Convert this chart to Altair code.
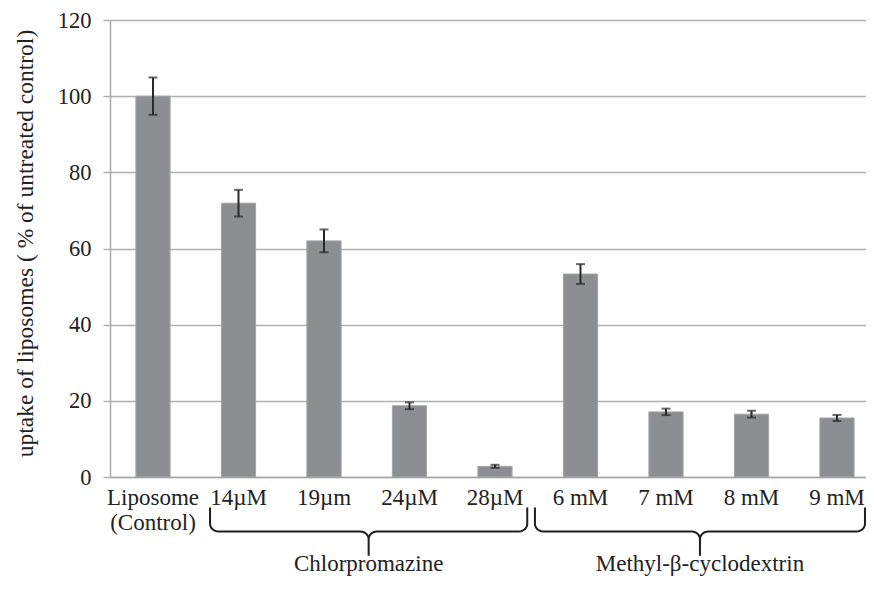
import math
import altair as alt
import pandas as pd

# ---- data ----
categories = ["Liposome\n(Control)", "14µM", "19µm", "24µM", "28µM",
              "6 mM", "7 mM", "8 mM", "9 mM"]
uptake = [100.0, 71.9, 62.0, 18.7, 2.8, 53.3, 17.1, 16.5, 15.5]
error = [4.9, 3.5, 3.0, 0.9, 0.4, 2.6, 0.85, 0.9, 0.8]

groups = ["Chlorpromazine", "Methyl-β-cyclodextrin"]
group_start = [0.67, 4.47]   # in category-index units
group_end = [4.38, 8.33]

Y_TITLE = "uptake of liposomes ( % of untreated control)"
FONT = "Times New Roman, Liberation Serif, DejaVu Serif, serif"

bars_df = pd.DataFrame({
    "cat": categories,
    "val": uptake,
    "lo": [v - e for v, e in zip(uptake, error)],
    "hi": [v + e for v, e in zip(uptake, error)],
})

# brace geometry (shape of the curly bracket, in data units)
TOP, MID, TIP = -8.0, -14.3, -20.7
RX, RY = 0.1, 2.0


def brace(x0, x1):
    xc = (x0 + x1) / 2
    pts = [(x0, TOP)]
    for k in range(7):
        t = math.pi + k * (math.pi / 2) / 6
        pts.append((x0 + RX + RX * math.cos(t), MID + RY + RY * math.sin(t)))
    for k in range(7):
        t = math.pi / 2 - k * (math.pi / 2) / 6
        pts.append((xc - RX + RX * math.cos(t), MID - RY + RY * math.sin(t)))
    pts.append((xc, TIP))
    for k in range(7):
        t = math.pi - k * (math.pi / 2) / 6
        pts.append((xc + RX + RX * math.cos(t), MID - RY + RY * math.sin(t)))
    for k in range(7):
        t = 1.5 * math.pi + k * (math.pi / 2) / 6
        pts.append((x1 - RX + RX * math.cos(t), MID + RY + RY * math.sin(t)))
    pts.append((x1, TOP))
    return pts


rows = []
for g, a, b in zip(groups, group_start, group_end):
    for i, (x, y) in enumerate(brace(a, b)):
        rows.append({"group": g, "order": i, "x": x, "y": y})
brace_df = pd.DataFrame(rows)
label_df = pd.DataFrame({
    "group": groups,
    "x": [(a + b) / 2 for a, b in zip(group_start, group_end)],
    "y": [-24.8] * len(groups),
})

yscale = alt.Scale(domain=[0, 120], nice=False)
xband = alt.X(
    "cat:N", sort=categories, title=None,
    scale=alt.Scale(paddingInner=0.6, paddingOuter=0.221, align=0.685),
    axis=alt.Axis(labelAngle=0, labelExpr="split(datum.label, '\\n')",
                  labelFont=FONT, labelFontSize=23, labelColor="#222222",
                  labelLineHeight=25, labelPadding=9, ticks=False,
                  domainColor="#a8a8a8", domainWidth=1.5, labelBaseline="top"),
)

bars = alt.Chart(bars_df).mark_bar(color="#8d8e92", stroke="#a3a4a8", strokeWidth=1).encode(
    x=xband,
    y=alt.Y("val:Q", scale=yscale, title=Y_TITLE,
            axis=alt.Axis(values=[0, 20, 40, 60, 80, 100, 120], grid=True,
                          gridColor="#b0b0b0", gridWidth=1.5,
                          tickColor="#b0b0b0", tickSize=7, tickWidth=1.5,
                          domainColor="#a8a8a8", domainWidth=1.5,
                          labelFont=FONT, labelFontSize=22.5, labelColor="#222222",
                          labelPadding=12,
                          titleFont=FONT, titleFontSize=23.5, titleFontWeight="normal",
                          titleColor="#222222", titlePadding=20, titleY=223)),
)

err = alt.Chart(bars_df).mark_rule(color="#2a2a2a", strokeWidth=2).encode(
    x=alt.X("cat:N", sort=categories),
    y=alt.Y("lo:Q", scale=yscale),
    y2="hi:Q",
)
cap_lo = alt.Chart(bars_df).mark_tick(color="#2a2a2a", thickness=2, size=9).encode(
    x=alt.X("cat:N", sort=categories), y=alt.Y("lo:Q", scale=yscale))
cap_hi = alt.Chart(bars_df).mark_tick(color="#2a2a2a", thickness=2, size=9).encode(
    x=alt.X("cat:N", sort=categories), y=alt.Y("hi:Q", scale=yscale))

main = alt.layer(bars, err, cap_lo, cap_hi)

xq = alt.Scale(domain=[-0.5, 8.342], nice=False, zero=False)
braces = alt.Chart(brace_df).mark_line(color="#1e1e1e", strokeWidth=2, clip=False).encode(
    x=alt.X("x:Q", scale=xq, axis=None),
    y=alt.Y("y:Q", scale=yscale),
    order="order:Q",
    detail="group:N",
)
labels = alt.Chart(label_df).mark_text(font=FONT, fontSize=23, color="#222222",
                                       baseline="alphabetic").encode(
    x=alt.X("x:Q", scale=xq, axis=None),
    y=alt.Y("y:Q", scale=yscale),
    text="group:N",
)

chart = alt.layer(main, braces, labels).resolve_scale(x="independent").properties(
    width=756, height=457,
    autosize=alt.AutoSizeParams(type="none"),
    padding={"left": 102, "top": 12, "right": 0, "bottom": 101},
).configure_view(stroke=None).configure(background="white")

chart.save("out.html", embed_options={"renderer": "svg", "actions": False})
